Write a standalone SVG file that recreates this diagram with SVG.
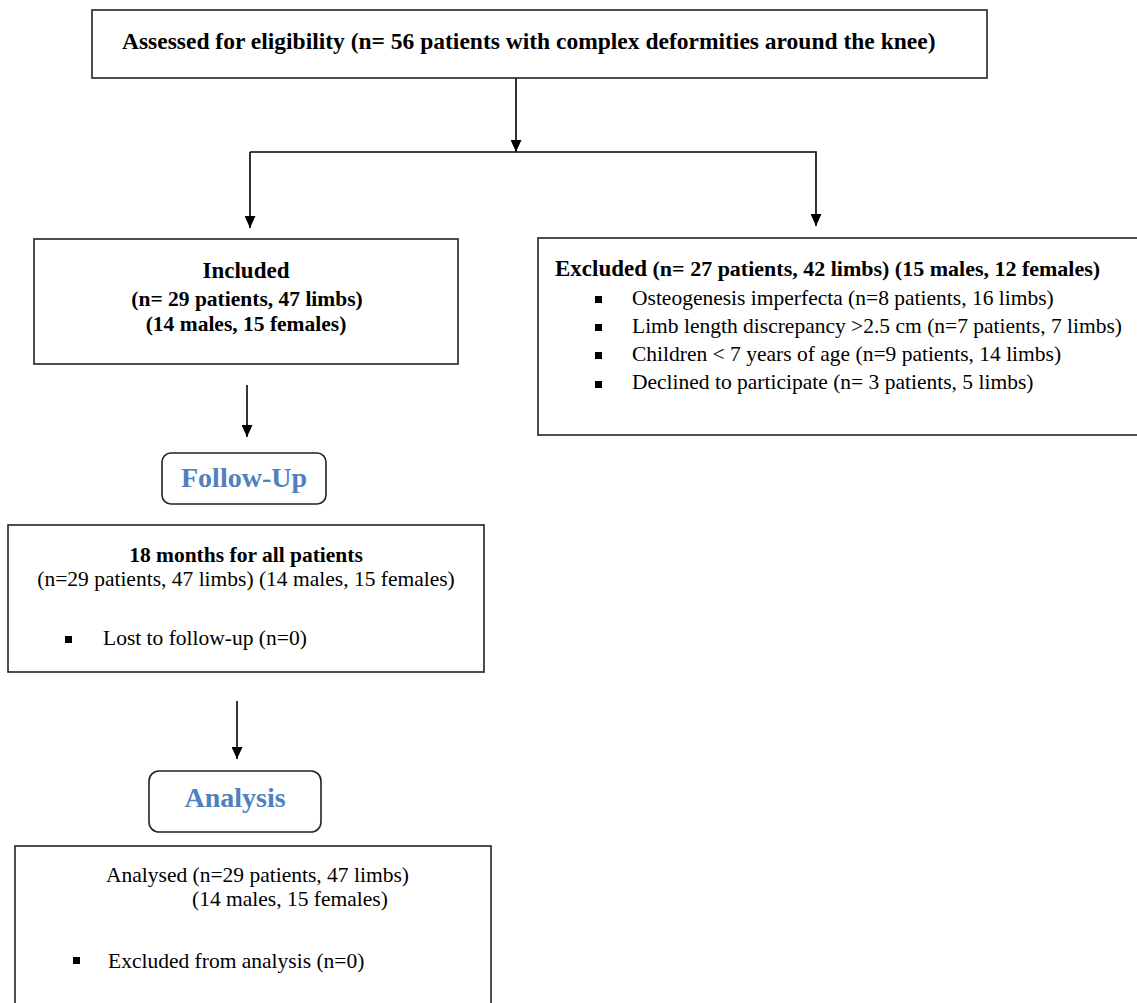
<svg xmlns="http://www.w3.org/2000/svg" width="1137" height="1003" viewBox="0 0 1137 1003">
<defs>
<marker id="ah" markerWidth="12" markerHeight="11" refX="12" refY="5.5" orient="auto" markerUnits="userSpaceOnUse" viewBox="0 0 12 11">
<path d="M0,0 L12,5.5 L0,11 Z" fill="#000"/>
</marker>
<style>
.box{fill:#fff;stroke:#222;stroke-width:1.6}
.t{font-family:"Liberation Serif","Times New Roman",serif;fill:#000;font-size:21.5px}
.b{font-weight:bold}
.big{font-size:23px}
.title{font-size:23.5px}
.h{font-family:"Liberation Serif","Times New Roman",serif;font-weight:bold;fill:#4F81BD;font-size:28px}
.c{stroke:#000;stroke-width:1.6;fill:none}
.bu{fill:#000}
</style>
</defs>
<rect width="1137" height="1003" fill="#fff"/>
<g id="connectors">
<line class="c" x1="516" y1="78" x2="516" y2="152" marker-end="url(#ah)"/>
<polyline class="c" points="250,152 816,152 816,226" marker-end="url(#ah)"/>
<line class="c" x1="250" y1="152" x2="250" y2="228" marker-end="url(#ah)"/>
<line class="c" x1="247" y1="385" x2="247" y2="437" marker-end="url(#ah)"/>
<line class="c" x1="237" y1="701" x2="237" y2="759" marker-end="url(#ah)"/>
</g>
<g id="assessed">
<rect class="box" x="92" y="10" width="895" height="68"/>
<text class="t b title" x="122" y="49">Assessed for eligibility (n= 56 patients with complex deformities around the knee)</text>
</g>
<g id="included">
<rect class="box" x="34" y="239" width="424" height="125"/>
<text class="t b big" x="246" y="278" text-anchor="middle">Included</text>
<text class="t b" x="247" y="306" text-anchor="middle">(n= 29 patients, 47 limbs)</text>
<text class="t b" x="246" y="331" text-anchor="middle">(14 males, 15 females)</text>
</g>
<g id="excluded">
<rect class="box" x="538" y="238" width="610" height="197"/>
<text class="t b" x="555" y="276" style="font-size:22px"><tspan class="big">Excluded</tspan> (n= 27 patients, 42 limbs) (15 males, 12 females)</text>
<rect class="bu" x="595" y="296" width="7" height="7"/>
<text class="t" x="632" y="305">Osteogenesis imperfecta (n=8 patients, 16 limbs)</text>
<rect class="bu" x="595" y="324" width="7" height="7"/>
<text class="t" x="632" y="333">Limb length discrepancy &gt;2.5 cm (n=7 patients, 7 limbs)</text>
<rect class="bu" x="595" y="352" width="7" height="7"/>
<text class="t" x="632" y="361">Children &lt; 7 years of age (n=9 patients, 14 limbs)</text>
<rect class="bu" x="595" y="381" width="7" height="7"/>
<text class="t" x="632" y="389">Declined to participate (n= 3 patients, 5 limbs)</text>
</g>
<g id="followup">
<rect class="box" x="162" y="453" width="164" height="51" rx="9"/>
<text class="h" x="244" y="487" text-anchor="middle">Follow-Up</text>
</g>
<g id="months">
<rect class="box" x="8" y="525" width="476" height="147"/>
<text class="t b" x="246" y="562" text-anchor="middle">18 months for all patients</text>
<text class="t" x="246" y="586" text-anchor="middle">(n=29 patients, 47 limbs) (14 males, 15 females)</text>
<rect class="bu" x="65" y="636" width="7" height="7"/>
<text class="t" x="103" y="645">Lost to follow-up (n=0)</text>
</g>
<g id="analysis">
<rect class="box" x="149" y="771" width="172" height="61" rx="10"/>
<text class="h" x="235" y="807" text-anchor="middle">Analysis</text>
</g>
<g id="analysed">
<rect class="box" x="15" y="846" width="476" height="170"/>
<text class="t" x="106" y="882">Analysed (n=29 patients, 47 limbs)</text>
<text class="t" x="192" y="906">(14 males, 15 females)</text>
<rect class="bu" x="73" y="957" width="7" height="7"/>
<text class="t" x="108" y="968">Excluded from analysis (n=0)</text>
</g>
</svg>
